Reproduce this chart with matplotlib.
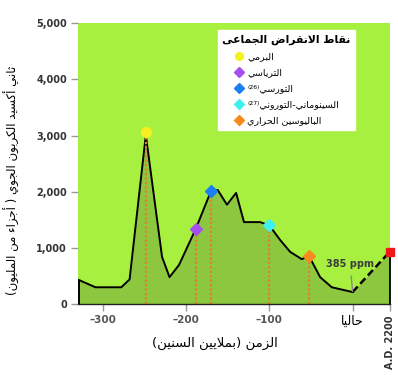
import matplotlib
matplotlib.use("Agg")
import matplotlib.pyplot as plt
from matplotlib.lines import Line2D

plt.rcParams['font.family'] = ['DejaVu Sans']

# CO2 curve (million years, ppm)
years = [-329, -309, -278, -268, -248.5, -229, -220, -208.5, -188.5, -170,
         -162, -151, -140, -130.5, -111, -100, -87, -75, -61, -52.5, -39, -25, 0]
co2 = [430, 300, 300, 440, 3010, 840, 480, 700, 1340, 2020,
       2030, 1770, 1980, 1460, 1460, 1400, 1140, 930, 800, 860, 480, 300, 215]
future_year = 44.5
future_co2 = 930

# extinction events
event_names = ["البرمي", "الترياسي", "التورسي", "السينوماني-التوروني", "الباليوسين الحراري"]
event_sup = ["", "", "⁽²⁶⁾", "⁽²⁷⁾", ""]
event_years = [-248.5, -188.5, -170, -100, -52.5]
event_co2 = [3060, 1340, 2020, 1400, 860]
event_colors = ['#f5f01e', '#a64ef0', '#1a7ff0', '#3ef0f0', '#f58a1e']
event_markers = ['o', 'D', 'D', 'D', 'D']

# --- tiny Arabic shaper (matplotlib has no complex text layout) ---
_forms = {}
_base = 0xFE80
for _code, _n in [(0x621, 1), (0x622, 2), (0x623, 2), (0x624, 2), (0x625, 2), (0x626, 4),
                  (0x627, 2), (0x628, 4), (0x629, 2), (0x62A, 4), (0x62B, 4), (0x62C, 4),
                  (0x62D, 4), (0x62E, 4), (0x62F, 2), (0x630, 2), (0x631, 2), (0x632, 2),
                  (0x633, 4), (0x634, 4), (0x635, 4), (0x636, 4), (0x637, 4), (0x638, 4),
                  (0x639, 4), (0x63A, 4), (0x641, 4), (0x642, 4), (0x643, 4), (0x644, 4),
                  (0x645, 4), (0x646, 4), (0x647, 4), (0x648, 2), (0x649, 2), (0x64A, 4)]:
    _forms[chr(_code)] = (_base, _n)
    _base += _n
_lam_alef = {'ا': 0xFEFB, 'أ': 0xFEF7, 'إ': 0xFEF9, 'آ': 0xFEF5}
_mirror = {'(': ')', ')': '('}


def ar(text):
    """Shape Arabic letters and put them in visual (left to right) order."""
    out = []
    i = 0
    while i < len(text):
        c = text[i]
        prev = text[i - 1] if i > 0 else ''
        nxt = text[i + 1] if i + 1 < len(text) else ''
        p = prev in _forms and _forms[prev][1] == 4
        if c == 'ل' and nxt in _lam_alef:
            out.append(chr(_lam_alef[nxt] + (1 if p else 0)))
            i += 2
            continue
        if c in _forms:
            base, n = _forms[c]
            nj = n == 4 and nxt in _forms and nxt != 'ء'
            if n == 1:
                k = 0
            elif n == 2:
                k = 1 if p else 0
            else:
                k = 3 if (p and nj) else 1 if p else 2 if nj else 0
            out.append(chr(base + k))
        else:
            out.append(_mirror.get(c, c))
        i += 1
    return ''.join(reversed(out))


fig = plt.figure(figsize=(3.98, 3.75), dpi=100)
ax = fig.add_axes([0.196, 0.189, 0.784, 0.749])
ax.set_facecolor('#a8f040')

dark_fill = '#8dc63f'
all_years = years + [future_year]
all_co2 = co2 + [future_co2]
ax.fill_between(all_years, 0, all_co2, color=dark_fill, lw=0)
ax.plot(years, co2, color='black', lw=1.4)
ax.plot([years[-1], future_year], [co2[-1], future_co2], color='black', lw=1.8, ls=(0, (3, 1.5)))
ax.vlines([years[0]], 0, co2[0], color='black', lw=1.4)
ax.vlines([future_year], 0, future_co2, color='black', lw=1.3, clip_on=False)

ax.vlines(event_years, 0, event_co2, colors='#e07f2c', lw=1.6, linestyles=(0, (1, 1)))
for yr, val, col, mk in zip(event_years, event_co2, event_colors, event_markers):
    ax.plot(yr, val, marker=mk, color=col, ms=6 if mk == 'D' else 7, mec=col, zorder=5)
ax.plot(future_year, future_co2, marker='s', color='#f01818', ms=5.5, zorder=5, clip_on=False)

ax.annotate('385 ppm', xy=(0, co2[-1] + 10), xytext=(-3, 715), ha='center', va='center',
            fontsize=7, fontweight='bold', color='#3c3c3c',
            arrowprops=dict(arrowstyle='-', color='#888888', lw=1, shrinkA=3, shrinkB=0))

ax.set_xlim(-330, 45)
ax.set_ylim(0, 5000)
ax.set_yticks([0, 1000, 2000, 3000, 4000, 5000])
ax.set_yticklabels(['0', '1,000', '2,000', '3,000', '4,000', '5,000'],
                   fontsize=7, fontweight='bold', color='#333333')
ax.set_xticks([-300, -200, -100, 0, future_year])
ax.set_xticklabels(['–300', '–200', '–100', ar('حاليا'), 'A.D. 2200'])
for lab in ax.get_xticklabels()[:3]:
    lab.set_fontsize(7.5)
    lab.set_fontweight('bold')
    lab.set_color('#555555')
ax.get_xticklabels()[3].set_fontsize(9)
lab_ad = ax.get_xticklabels()[4]
lab_ad.set_rotation(90)
lab_ad.set_fontsize(7)
lab_ad.set_fontweight('bold')
lab_ad.set_color('#333333')
ax.tick_params(axis='both', direction='out', length=5, color='#999999', width=1, pad=3)

for side in ['top', 'right', 'left']:
    ax.spines[side].set_visible(False)
ax.spines['bottom'].set_color('#222222')
ax.spines['bottom'].set_linewidth(1)

ax.set_xlabel(ar('الزمن (بملايين السنين)'), fontsize=9.5)
ax.xaxis.set_label_coords(0.44, -0.139)
ax.xaxis.label.set_va('center')
ax.set_ylabel(ar('ثاني أكسيد الكربون الجوي ( أجزاء من المليون)'), fontsize=8.5)
ax.yaxis.set_label_coords(-0.185, 0.44)

handles = [Line2D([], [], ls='none', marker=mk, color=col, ms=5.5)
           for col, mk in zip(event_colors, event_markers)]
labels = [sup + ar(name) for name, sup in zip(event_names, event_sup)]
leg = ax.legend(handles, labels, title=ar('نقاط الانقراض الجماعى'), loc='upper left',
                bbox_to_anchor=(0.449, 0.975), borderaxespad=0, fontsize=6.8, handlelength=1,
                handletextpad=0.4, labelspacing=0.75, borderpad=0.45, frameon=True,
                fancybox=False, framealpha=1, edgecolor='white')
leg.get_title().set_fontsize(7.8)
leg.get_title().set_fontweight('bold')

fig.savefig('out.png', dpi=100, facecolor='white')
